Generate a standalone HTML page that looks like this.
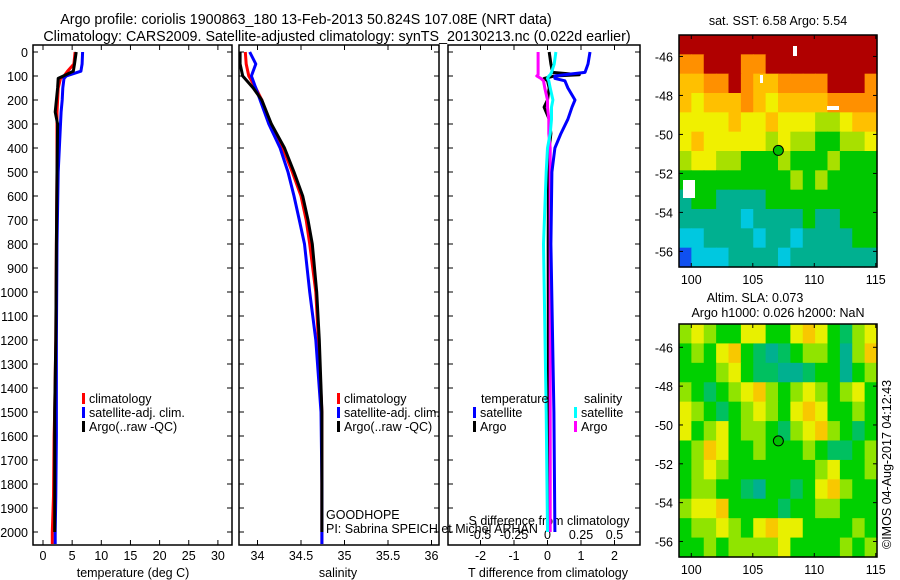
<!DOCTYPE html>
<html><head><meta charset="utf-8"><style>
body{margin:0;background:#fff;}
svg{display:block;font-family:"Liberation Sans",sans-serif;font-size:12.5px;}
</style></head><body>
<svg id="c" width="900" height="580" viewBox="0 0 900 580" xmlns="http://www.w3.org/2000/svg">
<text x="306" y="24" text-anchor="middle" style="font-size:14.3px">Argo profile: coriolis 1900863_180 13-Feb-2013 50.824S 107.08E (NRT data)</text>
<text x="337" y="41" text-anchor="middle" style="font-size:14.3px">Climatology: CARS2009. Satellite-adjusted climatology: synTS_20130213.nc (0.022d earlier)</text>
<g id="g"></g>
</svg>
<script>
// ---- data ----
const tDepth=[0,50,80,100,110,150,200,250,300,500,800,1200,1500,1600,1850,2000,2050];
const tClim=[5.5,5.3,4.2,3.6,3.0,2.6,2.5,2.4,2.4,2.4,2.3,2.2,2.0,1.9,1.8,1.6,1.6];
const tSat=[6.8,6.7,6.5,4.0,3.6,3.4,3.3,3.1,3.0,2.6,2.4,2.3,2.3,2.3,2.2,2.1,2.1];
const tArgo=[5.7,5.4,5.2,3.5,2.6,2.5,2.3,2.1,2.5,2.4,2.3,2.2,2.0,2.0,2.0,2.0];
const sDepth=[0,50,100,150,200,300,400,500,600,700,800,1000,1200,1500,1800,2000,2050];
const sClim=[33.86,33.87,33.9,33.98,34.05,34.15,34.29,34.4,34.5,34.56,34.6,34.67,34.7,34.74,34.74,34.74,34.74];
const sSat=[33.91,33.98,33.93,33.98,34.03,34.13,34.26,34.35,34.42,34.48,34.54,34.6,34.67,34.73,34.74,34.74,34.74];
const sArgo=[33.8,33.8,33.83,33.95,34.05,34.16,34.31,34.42,34.52,34.58,34.63,34.68,34.71,34.74,34.74,34.74];
const dDepth=[0,50,85,95,100,110,120,150,200,230,280,340,400,500,800,1500,2000];
const dTSat=[1.27,1.21,1.12,0.5,0.22,0.22,0.52,0.61,0.82,0.73,0.61,0.4,0.22,0.13,0.1,0.19,0.22];
const dTArgo=[0.05,0.1,0.15,0.95,0.2,-0.1,0.0,0.05,0.0,-0.1,0.05,0.1,0.05,0.03,0.02,0.03,0.03];
const dSSat=[0.063,0.05,0.03,0.02,0.01,0.0,0.01,0.02,0.04,0.03,0.03,0.02,0.0,-0.01,-0.03,-0.01,0.0];
const dSArgo=[-0.07,-0.07,-0.07,-0.07,-0.08,-0.05,-0.03,-0.02,0.0,0.0,0.01,0.01,0.02,0.02,0.02,0.02,0.02];
const sstGrid=[
"8888888888888888","7788877888888888","6677876677778887","6566676566667777",
"5555655655544566","5655555454433445","4554433343334333","3333333334343333",
"2332222333333333","2222212222322333","1122221221222233","0111222212222222"];
const slaGrid=[
"3432244224542134","2324521012332035","2223421100122023","3212345323432342",
"4321234324542232","4234233213453212","2354223222321123","2343222222234223",
"2332210221245322","3445222212233222","2334324544222232","2232333342222323"];
const dT=[-2,-1,0,1,2], dS=[-0.5,-0.25,0,0.25,0.5];
const tTicks=[0,5,10,15,20,25,30], sTicks=[34,34.5,35,35.5,36];
const depthTicks=[0,100,200,300,400,500,600,700,800,900,1000,1100,1200,1300,1400,1500,1600,1700,1800,1900,2000];
const lonTicks=[100,105,110,115], latTicks=[-46,-48,-50,-52,-54,-56];
const argoLon=107.08, argoLat=-50.82;

// ---- scales ----
const yD=d=>52+0.24*d;
const xT=t=>43+5.83*t;
const xS=s=>257.5+87*(s-34);
const xdT=v=>547.5+33.5*v;
const xdS=v=>547.5+134*v;
const NS="http://www.w3.org/2000/svg", G=document.getElementById('g');
function el(tag,at,txt){const e=document.createElementNS(NS,tag);for(const k in at)e.setAttribute(k,at[k]);if(txt!==undefined)e.textContent=txt;G.appendChild(e);return e;}
function box(x0,y0,x1,y1,name){const e=el('rect',{x:x0,y:y0,width:x1-x0,height:y1-y0,fill:'none',stroke:'#000','stroke-width':1.5});

}
function line(xs,ys,col,w,name){let p='';for(let i=0;i<xs.length;i++)p+=(i?'L':'M')+xs[i].toFixed(1)+','+ys[i].toFixed(1);
const e=el('path',{d:p,fill:'none',stroke:col,'stroke-width':w,'stroke-linejoin':'round'});

}
function txt(x,y,s,anchor,name,extra){const e=el('text',Object.assign({x:x,y:y,'text-anchor':anchor||'start'},extra||{}),s);

return e;}
function tk(x1,y1,x2,y2){const e=el('line',{x1,y1,x2,y2,stroke:'#000','stroke-width':1});

}

const PB=545;
const panels=[[33,232],[239,439],[448,640]];
panels.forEach((p,i)=>{box(p[0],45,p[1],PB,'profile-panel-'+(i+1));
 depthTicks.forEach(d=>{tk(p[0],yD(d),p[0]+5,yD(d));tk(p[1],yD(d),p[1]-5,yD(d));});});
depthTicks.forEach(d=>txt(28,yD(d)+5,String(d),'end','depth-tick-label'));
tTicks.forEach(t=>{tk(xT(t),PB,xT(t),PB-5);tk(xT(t),45,xT(t),50);txt(xT(t),560,String(t),'middle','temp-tick-label');});
txt(133,577,'temperature (deg C)','middle','temp-axis-title');
sTicks.forEach(s=>{tk(xS(s),PB,xS(s),PB-5);tk(xS(s),45,xS(s),50);txt(xS(s),560,String(s),'middle','sal-tick-label');});
txt(338,577,'salinity','middle','sal-axis-title');
dT.forEach(v=>{tk(xdT(v),PB,xdT(v),PB-5);tk(xdT(v),45,xdT(v),50);txt(xdT(v),560,String(v),'middle','tdiff-tick-label');});
txt(548,577,'T difference from climatology','middle','tdiff-axis-title');
dS.forEach(v=>txt(xdS(v),539,String(v),'middle','sdiff-tick-label'));
txt(549,525,'S difference from climatology','middle','sdiff-axis-title');

line(tClim.map(xT),tDepth.map(yD),'#f00',3,'temp-climatology-line');
line(tSat.map(xT),tDepth.map(yD),'#00f',3,'temp-satellite-line');
line(tArgo.map(xT),tDepth.slice(0,tArgo.length).map(yD),'#000',3,'temp-argo-line');
line(sClim.map(xS),sDepth.map(yD),'#f00',3,'sal-climatology-line');
line(sSat.map(xS),sDepth.map(yD),'#00f',3,'sal-satellite-line');
line(sArgo.map(xS),sDepth.slice(0,sArgo.length).map(yD),'#000',3,'sal-argo-line');
line(dTArgo.map(xdT),dDepth.map(yD),'#000',3,'tdiff-argo-line');
line(dSArgo.map(xdS),dDepth.map(yD),'#f0f',3,'sdiff-argo-line');
line(dSSat.map(xdS),dDepth.map(yD),'#0ff',3,'sdiff-satellite-line');
line(dTSat.map(xdT),dDepth.map(yD),'#00f',3,'tdiff-satellite-line');

function leg(x,y,col,s,name){const r=el('rect',{x:x,y:y-10,width:3,height:11,fill:col});


txt(x+7,y,s,'start',name);}
[[82,'climatology','#f00'],[82,'satellite-adj. clim.','#00f'],[82,'Argo(..raw -QC)','#000']].forEach((a,i)=>{
 leg(82,403+i*14,a[2],a[1],'temp-legend-entry');leg(337,403+i*14,a[2],a[1],'sal-legend-entry');});
txt(481,403,'temperature','start','tdiff-legend-header');txt(584,403,'salinity','start','sdiff-legend-header');
leg(473,417,'#00f','satellite','tdiff-legend-satellite');leg(473,431,'#000','Argo','tdiff-legend-argo');
leg(574,417,'#0ff','satellite','sdiff-legend-satellite');leg(574,431,'#f0f','Argo','sdiff-legend-argo');
txt(326,519,'GOODHOPE','start','project-label');
txt(326,533,'PI: Sabrina SPEICH et Michel ARHAN','start','pi-label');

const sstCol=['#1050f0','#00c8e0','#00b090','#00c800','#a8e000','#f0f000','#ffc000','#ff9000','#b00000'];
const slaCol=['#00b090','#00c060','#00d000','#90e400','#e8f000','#f8c800'];
function map(y0,y1,grid,cols,name,latTop,latBot){
 const x0=679,x1=877,lonL=99,lonR=115.1;
 const xL=l=>x0+(l-lonL)*(x1-x0)/(lonR-lonL), yL=a=>y0+(latTop-a)*(y1-y0)/(latTop-latBot);
 const nr=grid.length,nc=grid[0].length,cw=(x1-x0)/nc,ch=(y1-y0)/nr;
 for(let r=0;r<nr;r++)for(let c=0;c<nc;c++){const v=+grid[r][c];
  const e=el('rect',{x:x0+c*cw,y:y0+r*ch,width:cw+0.6,height:ch+0.6,fill:cols[v]});
  
  }
 box(x0,y0,x1,y1,name+'-frame');
 lonTicks.forEach(l=>{tk(xL(l),y1,xL(l),y1-4);tk(xL(l),y0,xL(l),y0+4);txt(xL(l),y1+17,String(l),'middle',name+'-lon-label');});
 latTicks.forEach(a=>{tk(x0,yL(a),x0+4,yL(a));tk(x1,yL(a),x1-4,yL(a));txt(673,yL(a)+5,String(a),'end',name+'-lat-label');});
 const c=el('circle',{cx:xL(argoLon),cy:yL(argoLat),r:5,fill:'#00c000',stroke:'#000','stroke-width':1});
 
 
}
map(35,267,sstGrid,sstCol,'sst-map',-44.9,-56.8);
map(324,557,slaGrid,slaCol,'sla-map',-44.8,-56.8);
[[793,46,4,10],[760,75,3,8],[827,106,12,4],[683,180,12,18]].forEach(r=>{const e=el('rect',{x:r[0],y:r[1],width:r[2],height:r[3],fill:'#fff'});

});
txt(778,25,'sat. SST: 6.58 Argo: 5.54','middle','sst-map-title');
txt(755,302,'Altim. SLA: 0.073','middle','sla-map-title');
txt(778,317,'Argo h1000: 0.026 h2000: NaN','middle','sla-map-subtitle');
txt(0,0,'©IMOS 04-Aug-2017 04:12:43','start','copyright-label',{transform:'translate(891,549) rotate(-90)'});
</script>
</body></html>
